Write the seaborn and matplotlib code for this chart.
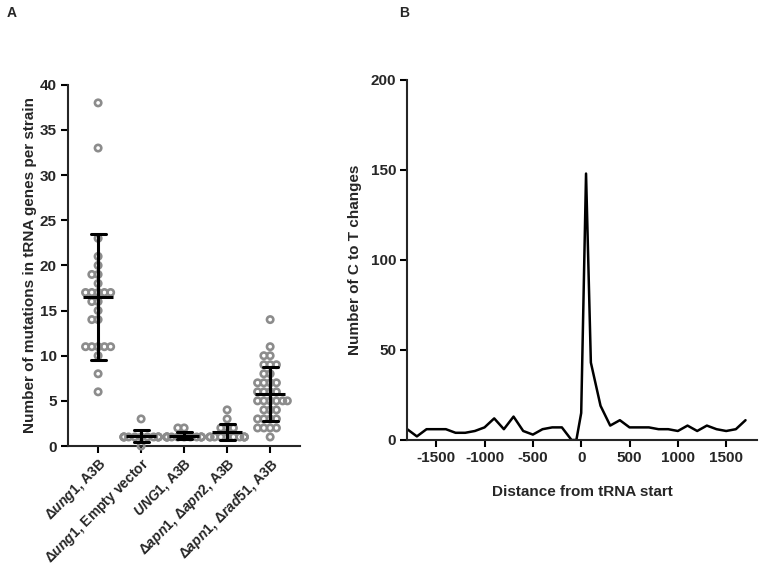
import numpy as np
import pandas as pd
import matplotlib
matplotlib.use("Agg")
import matplotlib.pyplot as plt
import seaborn as sns

# ---------------- data ----------------
strains = [
    "\u0394$\\mathit{ung1}$, A3B",
    "\u0394$\\mathit{ung1}$, Empty vector",
    "$\\mathit{UNG1}$, A3B",
    "\u0394$\\mathit{apn1}$, \u0394$\\mathit{apn2}$, A3B",
    "\u0394$\\mathit{apn1}$, \u0394$\\mathit{rad51}$, A3B",
]
ung1_a3b = [38, 33, 23, 21, 20, 19, 19, 18, 17, 17, 17, 17, 17, 16, 16, 15,
            14, 14, 11, 11, 11, 11, 11, 10, 8, 6]
ung1_empty = [3, 1, 1, 1, 1, 1, 1, 1, 1, 1, 1, 1, 0]
UNG1_a3b = [2, 2, 1, 1, 1, 1, 1, 1, 1, 1, 1, 1, 1, 1]
apn1_apn2 = [4, 3, 2, 2, 2, 1, 1, 1, 1, 1, 1, 1, 1, 1, 1]
apn1_rad51 = [14, 11, 10, 10, 9, 9, 9, 8, 8, 7, 7, 7, 7, 6, 6, 6, 6,
              5, 5, 5, 5, 5, 5, 4, 4, 4, 3, 3, 3, 3, 2, 2, 2, 2, 1]
groups = [ung1_a3b, ung1_empty, UNG1_a3b, apn1_apn2, apn1_rad51]

distance = [-1800, -1700, -1600, -1500, -1400, -1300, -1200, -1100, -1000,
            -900, -800, -700, -600, -500, -400, -300, -200, -100, -50, 0, 50,
            100, 200, 300, 400, 500, 600, 700, 800, 900, 1000, 1100, 1200,
            1300, 1400, 1500, 1600, 1700]
c_to_t = [6, 2, 6, 6, 6, 4, 4, 5, 7, 12, 6, 13, 5, 3, 6, 7, 7, 0, 0, 15, 148,
          43, 19, 8, 11, 7, 7, 7, 6, 6, 5, 8, 5, 8, 6, 5, 6, 11]

y_ticks_a = [0, 5, 10, 15, 20, 25, 30, 35, 40]
x_ticks_b = [-1500, -1000, -500, 0, 500, 1000, 1500]
y_ticks_b = [0, 50, 100, 150, 200]

# ---------------- style ----------------
sns.set_theme(style="ticks")
plt.rcParams["font.family"] = ["Liberation Sans", "DejaVu Sans"]
plt.rcParams["font.weight"] = "bold"
plt.rcParams["axes.labelweight"] = "bold"
plt.rcParams["axes.unicode_minus"] = False
plt.rcParams["mathtext.fontset"] = "custom"
plt.rcParams["mathtext.it"] = "Liberation Sans:italic:bold"
plt.rcParams["mathtext.rm"] = "Liberation Sans:bold"

gray = "#8c8c8c"
fs = 11

fig = plt.figure(figsize=(7.64, 5.67), dpi=100)
axA = fig.add_axes([0.089, 0.2134, 0.304, 0.637])
axB = fig.add_axes([0.533, 0.224, 0.458, 0.635])

rows = []
for name, vals in zip(strains, groups):
    for v in vals:
        rows.append((name, v))
df = pd.DataFrame(rows, columns=["strain", "count"])

# ---- panel A ----
axA.set_ylim(0, 40)
axA.set_xlim(-0.7, 4.7)
sns.swarmplot(data=df, x="strain", y="count", order=strains, ax=axA,
              size=4.3, color=gray, linewidth=0, warn_thresh=1.0)
axA.set_ylim(0, 40)
axA.set_xlim(-0.7, 4.7)
fig.canvas.draw()
for coll in list(axA.collections):
    if "draw" in coll.__dict__:
        del coll.draw
    coll.set_facecolor("none")
    coll.set_edgecolor(gray)
    coll.set_linewidth(1.9)
    coll.set_sizes([21])
    coll.set_clip_on(False)
    coll.set_zorder(3)

n_lines_before = len(axA.lines)
sns.pointplot(data=df, x="strain", y="count", order=strains, ax=axA,
              errorbar="sd", capsize=0.35, color="black", marker="_",
              markersize=22, markeredgewidth=2.2, linestyle="none",
              err_kws={"linewidth": 2.2})
for ln in axA.lines[n_lines_before:]:
    ln.set_zorder(5)
    ln.set_clip_on(False)

axA.set_ylim(0, 40)
axA.set_xlim(-0.7, 4.7)
axA.set_yticks(y_ticks_a)
axA.set_yticklabels([str(t) for t in y_ticks_a], fontsize=fs, fontweight="bold")
axA.set_xticks(range(len(strains)))
axA.set_xticklabels(strains, rotation=45, ha="right", rotation_mode="anchor",
                    fontsize=10, fontweight="bold")
axA.set_xlabel("")
axA.set_ylabel("Number of mutations in tRNA genes per strain", fontsize=fs,
               fontweight="bold", labelpad=2)
sns.despine(ax=axA)
axA.spines["left"].set_linewidth(1.5)
axA.spines["bottom"].set_linewidth(1.5)
axA.tick_params(axis="both", width=1.5, length=5, color="black", pad=3)
axA.tick_params(axis="x", pad=2)

# ---- panel B ----
sns.lineplot(x=distance, y=c_to_t, ax=axB, color="black", linewidth=1.8)
axB.set_xlim(-1800, 1820)
axB.set_ylim(0, 200)
axB.set_xticks(x_ticks_b)
axB.set_xticklabels([str(t) for t in x_ticks_b], fontsize=fs, fontweight="bold")
axB.set_yticks(y_ticks_b)
axB.set_yticklabels([str(t) for t in y_ticks_b], fontsize=fs, fontweight="bold")
axB.set_xlabel("Distance from tRNA start", fontsize=fs, fontweight="bold", labelpad=14)
axB.set_ylabel("Number of C to T changes", fontsize=fs, fontweight="bold", labelpad=6)
sns.despine(ax=axB)
axB.spines["left"].set_linewidth(1.5)
axB.spines["bottom"].set_linewidth(1.5)
axB.tick_params(axis="both", width=1.5, length=5, color="black", pad=3)

fig.text(0.009, 0.99, "A", fontsize=10, fontweight="bold", va="top")
fig.text(0.523, 0.99, "B", fontsize=10, fontweight="bold", va="top")

fig.savefig("out.png", dpi=100)
